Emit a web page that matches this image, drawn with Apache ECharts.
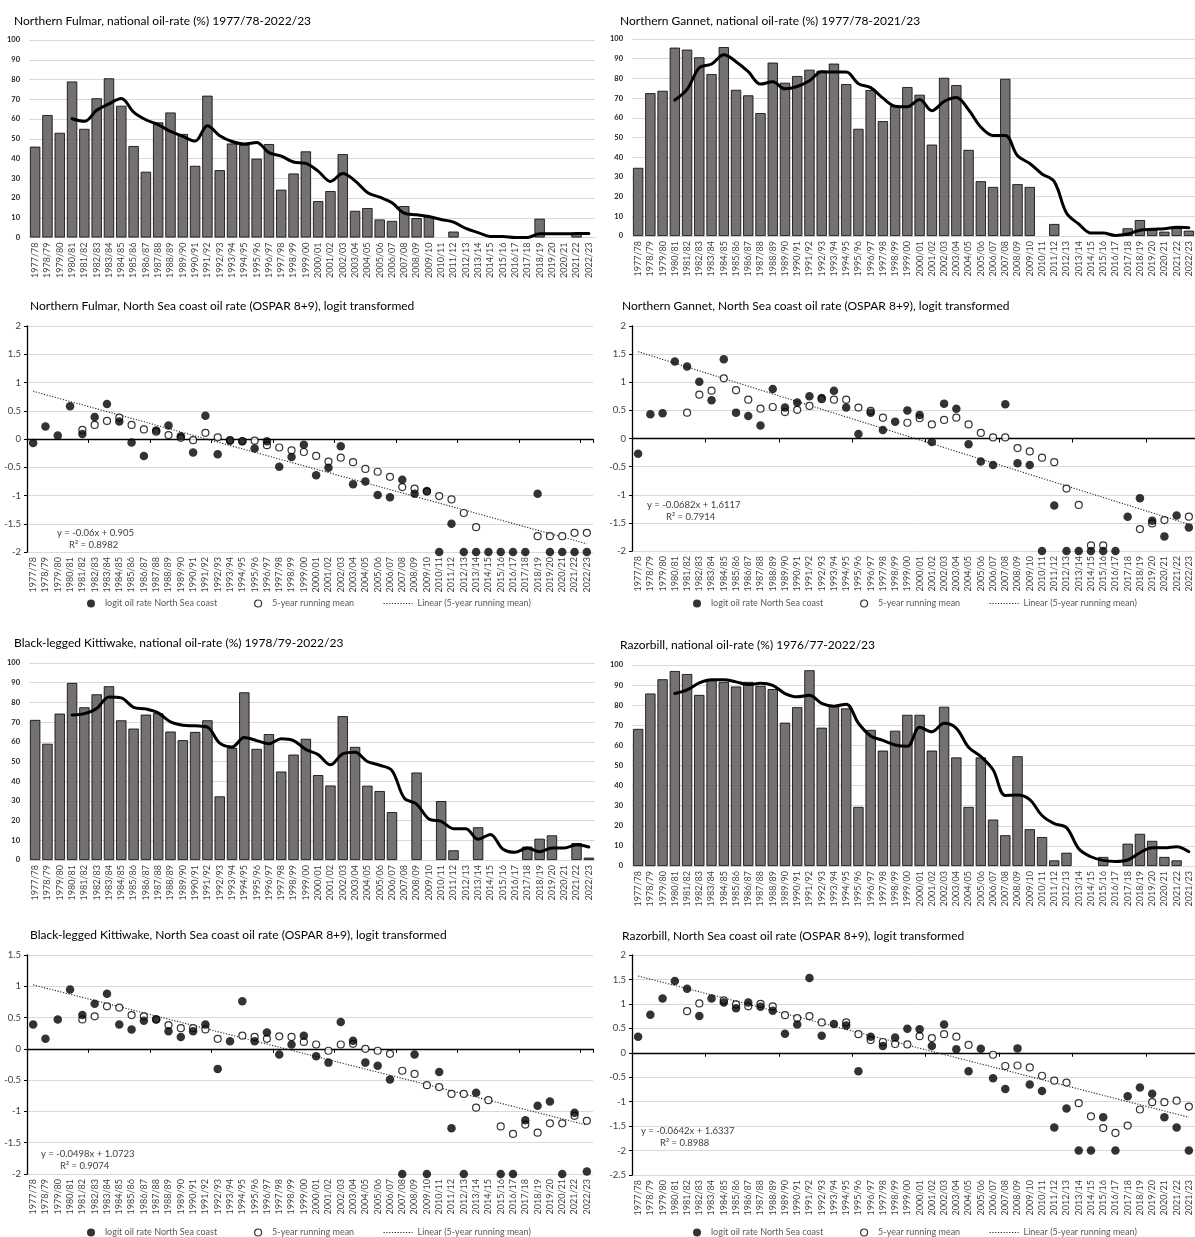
<!DOCTYPE html>
<html>
<head>
<meta charset="utf-8">
<script src="https://cdn.jsdelivr.net/npm/echarts@6/dist/echarts.min.js"></script>
<style>
  html, body { margin: 0; padding: 0; background: #fff; }
  #chart { width: 1195px; height: 1237px; }
</style>
</head>
<body>
<div id="chart"></div>
<script>
// Winter seasons on the category axes
const seasons = ['1977/78','1978/79','1979/80','1980/81','1981/82','1982/83','1983/84','1984/85','1985/86','1986/87',
  '1987/88','1988/89','1989/90','1990/91','1991/92','1992/93','1993/94','1994/95','1995/96','1996/97',
  '1997/98','1998/99','1999/00','2000/01','2001/02','2002/03','2003/04','2004/05','2005/06','2006/07',
  '2007/08','2008/09','2009/10','2010/11','2011/12','2012/13','2013/14','2014/15','2015/16','2016/17',
  '2017/18','2018/19','2019/20','2020/21','2021/22','2022/23'];
// Razorbill panels carry their own last tick label
const seasonsRazorbill = ['1977/78','1978/79','1979/80','1980/81','1981/82','1982/83','1983/84','1984/85','1985/86','1986/87',
  '1987/88','1988/89','1989/90','1990/91','1991/92','1992/93','1993/94','1994/95','1995/96','1996/97',
  '1997/98','1998/99','1999/00','2000/01','2001/02','2002/03','2003/04','2004/05','2005/06','2006/07',
  '2007/08','2008/09','2009/10','2010/11','2011/12','2012/13','2013/14','2014/15','2015/16','2016/17',
  '2017/18','2018/19','2019/20','2020/21','2021/22','2021/23'];

const pctTicks = [0, 100, 10];         // min, max, step of the oil-rate axes

// ---- Northern Fulmar ----
const fulmarRate = [46, 62, 53, 79, 55, 70.5, 80.6, 66.7, 46.3, 33.3,
  58.3, 63.3, 52.4, 36.3, 71.8, 34.1, 47.6, 47, 39.9, 47.3,
  24.2, 32.4, 43.6, 18.4, 23.5, 42.2, 13.5, 14.9, 9.1, 8.4,
  15.9, 9.8, 10.5, null, 3, null, null, null, null, null,
  null, 9.5, null, null, 1.9, null];
const fulmarRateMean = [null, null, null,
  60.1, 58.8, 64.4, 67.7, 70.4, 63.5, 59.6, 57.1, 53.7, 51.2,
  48.8, 56.6, 51.5, 48.6, 47.3, 48.1, 43, 41.2, 38.2, 37.5,
  33.6, 28.4, 32.4, 28.7, 22.8, 20.4, 17.6, 12.3, 11.5, 10.6,
  9.1, 7.8, 4.6, 2.5, 0.5, 0.5, 0, 0, 1.9, 1.9,
  1.9, 2, 2];
const fulmarLogit = [-0.07, 0.22, 0.06, 0.58, 0.09, 0.39, 0.62, 0.31, -0.06, -0.3,
  0.15, 0.24, 0.05, -0.24, 0.41, -0.27, -0.03, -0.04, -0.17, -0.04,
  -0.49, -0.32, -0.1, -0.64, -0.51, -0.13, -0.8, -0.75, -0.99, -1.03,
  -0.72, -0.97, -0.92, -2, -1.5, -2, -2, -2, -2, -2,
  -2, -0.97, -2, -2, -2, -2];
const fulmarLogitMean = [null, null, null, null,
  0.16, 0.25, 0.32, 0.38, 0.25, 0.17, 0.13, 0.07, 0.02, -0.02,
  0.11, 0.03, -0.02, -0.04, -0.03, -0.11, -0.15, -0.2, -0.23, -0.3,
  -0.4, -0.33, -0.41, -0.53, -0.58, -0.67, -0.85, -0.88, -0.93, -1.01,
  -1.07, -1.31, -1.56, null, null, null, null, -1.72, -1.72, -1.72,
  -1.66, -1.66];
const fulmarTrend = [-0.06, 0.905];          // slope, intercept
const fulmarR2 = '0.8982';

// ---- Northern Gannet ----
const gannetRate = [34.6, 72.5, 73.7, 95.6, 94.6, 90.7, 82.2, 95.9, 74.2, 71.4,
  62.4, 88, 77.8, 81.2, 84.4, 83.9, 87.5, 77.1, 54.4, 74.1,
  58.3, 65.9, 75.6, 71.7, 46.4, 80.3, 76.6, 43.7, 27.8, 24.9,
  79.8, 26.3, 24.9, null, 6.1, null, null, null, null, null,
  3.9, 8.1, 3.2, 2.2, 4, 2.7];
const gannetRateMean = [null, null, null,
  69, 74.4, 85.4, 87.3, 92, 88.5, 83.4, 77.1, 78.3, 74.7,
  75.9, 78.8, 83.4, 83.2, 83.2, 77.3, 75.3, 70, 65.9, 65.6,
  69.3, 63.6, 68.3, 70.3, 64.1, 55.3, 51, 51, 40.7, 36.8,
  31.5, 27.6, 11.7, 6.1, 1.5, 1.5, 0.3, 1, 2.9, 3.4,
  3.7, 4.4, 4.2];
const gannetLogit = [-0.27, 0.43, 0.45, 1.37, 1.28, 1.01, 0.68, 1.41, 0.46, 0.4,
  0.23, 0.88, 0.55, 0.64, 0.75, 0.72, 0.85, 0.55, 0.08, 0.46,
  0.15, 0.3, 0.5, 0.42, -0.06, 0.62, 0.53, -0.1, -0.41, -0.47,
  0.61, -0.44, -0.47, -2, -1.19, -2, -2, -2, -2, -2,
  -1.39, -1.06, -1.46, -1.74, -1.37, -1.58];
const gannetLogitMean = [null, null, null, null,
  0.46, 0.78, 0.85, 1.07, 0.86, 0.69, 0.53, 0.56, 0.47, 0.51,
  0.58, 0.7, 0.69, 0.69, 0.55, 0.49, 0.37, null, 0.28, 0.36,
  0.25, 0.33, 0.37, 0.25, 0.1, 0.02, 0.02, -0.17, -0.23, -0.34,
  -0.42, -0.89, -1.18, -1.9, -1.9, null, null, -1.61, -1.51, -1.45,
  null, -1.39];
const gannetTrend = [-0.0682, 1.6117];
const gannetR2 = '0.7914';

// ---- Black-legged Kittiwake ----
const kittiwakeRate = [71.1, 59, 74.3, 89.9, 77.5, 84.1, 88.2, 70.9, 66.7, 73.8,
  74.5, 65.2, 60.8, 65, 70.9, 32.3, 56.9, 85.1, 56.4, 63.9,
  44.9, 53.5, 61.5, 43.1, 37.8, 73, 57.4, 37.7, 35, 24.3,
  null, 44.4, null, 29.9, 4.9, null, 16.6, null, null, null,
  6.8, 10.8, 12.5, null, 8.6, 1.2];
const kittiwakeRateMean = [null, null, null,
  73.6, 74.3, 76.9, 82.8, 82.3, 77.5, 76.7, 74.7, 70.1, 68.4,
  68.1, 67.4, 59.3, 57.4, 62.2, 60.6, 59, 61.5, 60.6, 56.1,
  53.5, 48.3, 53.9, 54.7, 50, 48.1, 45.4, 31.4, 28.4, 20.8,
  19.6, 15.9, 15.9, 10.5, 13, 5.6, 3.9, 6.1, 4.2, 6.1,
  6.1, 7.8, 6.6];
const kittiwakeLogit = [0.39, 0.16, 0.47, 0.95, 0.54, 0.72, 0.88, 0.39, 0.31, 0.45,
  0.47, 0.28, 0.19, 0.28, 0.39, -0.32, 0.12, 0.76, 0.12, 0.26,
  -0.09, 0.07, 0.21, -0.12, -0.22, 0.43, 0.13, -0.22, -0.27, -0.49,
  -2, -0.09, -2, -0.37, -1.27, -2, -0.7, null, -2, -2,
  -1.14, -0.91, -0.84, -2, -1.02, -1.96];
const kittiwakeLogitMean = [null, null, null, null,
  0.47, 0.52, 0.68, 0.66, 0.54, 0.52, 0.47, 0.38, 0.33, 0.33,
  0.31, 0.16, null, 0.21, 0.19, 0.16, 0.2, 0.19, 0.11, 0.07,
  -0.03, 0.07, 0.08, 0, -0.03, -0.08, -0.35, -0.4, -0.58, -0.61,
  -0.72, -0.72, -0.94, -0.82, -1.24, -1.36, -1.21, -1.34, -1.19, -1.19,
  -1.07, -1.15];
const kittiwakeTrend = [-0.0498, 1.0723];
const kittiwakeR2 = '0.9074';

// ---- Razorbill ----
const razorbillRate = [68.2, 85.8, 92.9, 97, 95.5, 85.1, 92.4, 91.6, 89.3, 91.6,
  89.6, 88, 71.3, 79, 97.4, 68.8, 79.7, 78.4, 29.4, 67.7,
  57.4, 67.3, 75.2, 75.2, 57.4, 79.2, 54, 29.4, 54, 23.1,
  15.3, 54.6, 18.3, 14.4, 2.8, 6.6, null, null, 4.5, null,
  11.1, 16, 12.5, 4.5, 2.8, null];
const razorbillRateMean = [null, null, null,
  85.8, 87.6, 91.1, 92.7, 92.7, 91.6, 90.3, 90.9, 89.9, 85.8,
  84.2, 85, 80.9, 79.5, 80.5, 71, 64.7, 62.5, 60.2, 59.6,
  69, 66.8, 71, 68.5, 59.1, 54.5, 47.9, 35.1, 35.3, 33,
  25.1, 21.1, 19.1, 8.6, 4.6, 2.8, 2.3, 3, 6.6, 9.1,
  9.1, 9.6, 7.1];
const razorbillLogit = [0.33, 0.78, 1.11, 1.47, 1.31, 0.75, 1.11, 1.03, 0.91, 1.03,
  0.94, 0.86, 0.39, 0.58, 1.53, 0.35, 0.59, 0.56, -0.38, 0.33,
  0.14, 0.31, 0.49, 0.48, 0.14, 0.58, 0.07, -0.38, 0.08, -0.52,
  -0.74, 0.09, -0.65, -0.78, -1.53, -1.14, -2, -2, -1.32, -2,
  -0.89, -0.71, -0.84, -1.32, -1.53, -2];
const razorbillLogitMean = [null, null, null, null,
  0.85, 1.01, null, 1.07, 0.99, 0.95, 1, 0.95, 0.77, 0.71,
  0.75, 0.62, null, 0.62, 0.38, 0.26, 0.22, 0.18, 0.17, 0.34,
  0.3, 0.38, 0.33, 0.16, null, -0.04, -0.27, -0.26, -0.3, -0.47,
  -0.57, -0.61, -1.03, -1.3, -1.54, -1.64, -1.49, -1.16, -1.01, -1.01,
  -0.98, -1.1];
const razorbillTrend = [-0.0642, 1.6337];
const razorbillR2 = '0.8988';

// Series / legend names
const NAME_LOGIT = 'logit oil rate North Sea coast';
const NAME_MEAN = '5-year running mean';
const NAME_TREND = 'Linear (5-year running mean)';

// ---------------------------------------------------------------
const FONT = 'Lato, "Liberation Sans", sans-serif';
const GRID_COLOR = '#d9d9d9';
const TEXT_COLOR = '#404040';
const TREND_DASH = [1.2, 1.6];

const option = {
  animation: false,
  backgroundColor: '#fff',
  textStyle: { fontFamily: FONT },
  grid: [], xAxis: [], yAxis: [], series: [], legend: [], graphic: []
};

function addText(text, x, y, size, color) {
  option.graphic.push({
    type: 'text', x: x, y: y, silent: true,
    style: { text: text, fontSize: size, fontFamily: FONT, fill: color, verticalAlign: 'middle', align: 'left' }
  });
}

function seasonLabels(margin) {
  return { rotate: 90, interval: 0, fontSize: 9, color: TEXT_COLOR, margin: margin };
}

// Bar panel: national oil-rate per season plus running-mean line
function barPanel(box, cats, rate, mean, title) {
  const gi = option.grid.length;
  option.grid.push({ left: box.left, top: box.top, width: box.width, height: box.height });
  const xi = option.xAxis.length, yi = option.yAxis.length;
  option.xAxis.push({
    type: 'category', gridIndex: gi, data: cats,
    axisLine: { show: true, lineStyle: { color: GRID_COLOR, width: 1 } },
    axisTick: { show: false },
    axisLabel: seasonLabels(5),
    splitLine: { show: false }
  });
  option.yAxis.push({
    type: 'value', gridIndex: gi, min: pctTicks[0], max: pctTicks[1], interval: pctTicks[2],
    axisLine: { show: false }, axisTick: { show: false },
    axisLabel: { fontSize: 7.5, fontWeight: 'bold', color: '#262626', margin: 9 },
    splitLine: { lineStyle: { color: GRID_COLOR, width: 1 } }
  });
  option.series.push({
    type: 'bar', xAxisIndex: xi, yAxisIndex: yi, data: rate, silent: true,
    barCategoryGap: '16%',
    itemStyle: { color: '#767171', borderColor: '#000', borderWidth: 0.8 }
  });
  option.series.push({
    type: 'line', xAxisIndex: xi, yAxisIndex: yi, data: mean, silent: true,
    smooth: 0.35, symbol: 'none', z: 3,
    lineStyle: { color: '#000', width: 3, cap: 'round', join: 'round' }
  });
  addText(title, box.titleX, box.titleY, 12, '#000');
}

// Logit panel: yearly logit values, running mean, and its linear trend
function logitPanel(box, cats, yMin, yMax, logit, mean, trend, r2, title) {
  const gi = option.grid.length;
  option.grid.push({ left: box.left, top: box.top, width: box.width, height: box.height });
  const xZero = option.xAxis.length, xLab = xZero + 1, yi = option.yAxis.length;
  // axis line drawn through zero, with tick marks
  option.xAxis.push({
    type: 'category', gridIndex: gi, data: cats, position: 'bottom',
    axisLine: { show: true, onZero: true, lineStyle: { color: '#000', width: 1.3 } },
    axisTick: { show: true, length: 4, lineStyle: { color: '#000', width: 1 } },
    axisLabel: { show: false }, splitLine: { show: false }
  });
  // season labels under the plot
  option.xAxis.push({
    type: 'category', gridIndex: gi, data: cats, position: 'bottom',
    axisLine: { show: false, onZero: false }, axisTick: { show: false },
    axisLabel: seasonLabels(5), splitLine: { show: false }
  });
  option.yAxis.push({
    type: 'value', gridIndex: gi, min: yMin, max: yMax, interval: 0.5,
    axisLine: { show: true, lineStyle: { color: '#000', width: 1.3 } },
    axisTick: { show: true, length: 3, lineStyle: { color: '#000' } },
    axisLabel: { fontSize: 9.5, color: TEXT_COLOR, margin: 6 },
    splitLine: { lineStyle: { color: GRID_COLOR, width: 1 } }
  });
  const trendLine = cats.map((c, i) => +(trend[0] * (i + 1) + trend[1]).toFixed(4));
  option.series.push({
    name: NAME_TREND, type: 'line', xAxisIndex: xLab, yAxisIndex: yi, data: trendLine,
    silent: true, symbol: 'none', z: 2,
    lineStyle: { color: '#262626', width: 1.1, type: TREND_DASH }
  });
  option.series.push({
    name: NAME_MEAN, type: 'scatter', xAxisIndex: xLab, yAxisIndex: yi, data: mean,
    silent: true, symbol: 'circle', symbolSize: 7, z: 3,
    itemStyle: { color: '#fff', borderColor: '#000', borderWidth: 1.2 }
  });
  option.series.push({
    name: NAME_LOGIT, type: 'scatter', xAxisIndex: xLab, yAxisIndex: yi, data: logit,
    silent: true, symbol: 'circle', symbolSize: 8.5, z: 4,
    itemStyle: { color: '#000', borderWidth: 0 }
  });
  addText(title, box.titleX, box.titleY, 12, '#000');
  addText('y = ' + trend[0] + 'x + ' + trend[1], box.eqX, box.eqY, 9.5, TEXT_COLOR);
  addText('R\u00b2 = ' + r2, box.r2X, box.eqY + 12, 9.5, TEXT_COLOR);

  // legend row below the season labels
  const lt = { fontSize: 9, color: '#595959', fontFamily: FONT };
  const lx = box.lgX;
  option.legend.push({
    data: [NAME_LOGIT], left: lx, top: box.lgY, padding: 0, itemGap: 0,
    itemWidth: 18, itemHeight: 8, icon: 'circle', selectedMode: false,
    itemStyle: { color: '#000', borderWidth: 0 }, textStyle: lt
  });
  option.legend.push({
    data: [NAME_MEAN], left: lx + 167, top: box.lgY, padding: 0, itemGap: 0,
    itemWidth: 18, itemHeight: 7, icon: 'circle', selectedMode: false,
    itemStyle: { color: '#fff', borderColor: '#000', borderWidth: 1.2 }, textStyle: lt
  });
  option.legend.push({
    data: [NAME_TREND], left: lx + 296, top: box.lgY, padding: 0, itemGap: 0,
    itemWidth: 29, itemHeight: 8, selectedMode: false,
    itemStyle: { opacity: 0 },
    lineStyle: { color: '#262626', width: 1.1, type: TREND_DASH }, textStyle: lt
  });
}

// ---- Layout of the eight panels ----
barPanel({ left: 29, top: 40, width: 566, height: 197.5, titleX: 14, titleY: 21 },
  seasons, fulmarRate, fulmarRateMean, 'Northern Fulmar, national oil-rate (%) 1977/78-2022/23');
barPanel({ left: 632, top: 39, width: 563, height: 197, titleX: 620, titleY: 21 },
  seasons, gannetRate, gannetRateMean, 'Northern Gannet, national oil-rate (%) 1977/78-2021/23');

logitPanel({ left: 27, top: 326, width: 566, height: 226, titleX: 30, titleY: 306,
             eqX: 57, eqY: 533, r2X: 69, lgX: 87, lgY: 599 },
  seasons, -2, 2, fulmarLogit, fulmarLogitMean, fulmarTrend, fulmarR2,
  'Northern Fulmar, North Sea coast oil rate (OSPAR 8+9), logit transformed');
logitPanel({ left: 632, top: 326, width: 563, height: 225, titleX: 622, titleY: 306,
             eqX: 647, eqY: 505, r2X: 666, lgX: 693, lgY: 599 },
  seasons, -2, 2, gannetLogit, gannetLogitMean, gannetTrend, gannetR2,
  'Northern Gannet, North Sea coast oil rate (OSPAR 8+9), logit transformed');

barPanel({ left: 29, top: 663, width: 566, height: 197, titleX: 14, titleY: 643 },
  seasons, kittiwakeRate, kittiwakeRateMean, 'Black-legged Kittiwake, national oil-rate (%) 1978/79-2022/23');
barPanel({ left: 632, top: 665, width: 563, height: 201, titleX: 620, titleY: 645 },
  seasonsRazorbill, razorbillRate, razorbillRateMean, 'Razorbill, national oil-rate (%) 1976/77-2022/23');

logitPanel({ left: 27, top: 955, width: 566, height: 219, titleX: 30, titleY: 935,
             eqX: 41, eqY: 1154, r2X: 60, lgX: 87, lgY: 1228 },
  seasons, -2, 1.5, kittiwakeLogit, kittiwakeLogitMean, kittiwakeTrend, kittiwakeR2,
  'Black-legged Kittiwake, North Sea coast oil rate (OSPAR 8+9), logit transformed');
logitPanel({ left: 632, top: 955, width: 563, height: 220, titleX: 622, titleY: 936,
             eqX: 641, eqY: 1131, r2X: 660, lgX: 693, lgY: 1228 },
  seasonsRazorbill, -2.5, 2, razorbillLogit, razorbillLogitMean, razorbillTrend, razorbillR2,
  'Razorbill, North Sea coast oil rate (OSPAR 8+9), logit transformed');

const chart = echarts.init(document.getElementById('chart'), null, { renderer: 'canvas' });
chart.setOption(option);
</script>
</body>
</html>
